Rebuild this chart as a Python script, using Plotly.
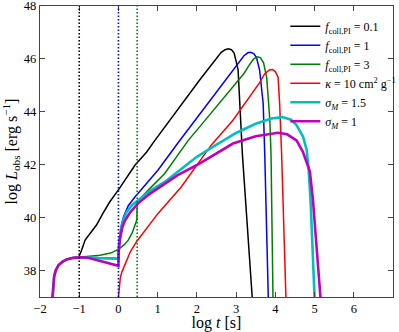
import plotly.graph_objects as go

# shared early plateau (hidden under the magenta line before the branch points)
plat_x = [-1.68, -1.665, -1.64, -1.6, -1.53, -1.43, -1.32, -1.15, -1.0]
plat_y = [37.0, 37.4, 37.77, 38.0, 38.2, 38.33, 38.42, 38.48, 38.5]

black_x = [-1.0, -0.97, -0.94, -0.85, -0.7, -0.56, -0.4, -0.22, 0.0, 0.42, 0.72, 0.93,
           2.08, 2.45, 2.62, 2.72, 2.8, 2.88, 2.95, 3.05, 3.16, 3.41]
black_y = [38.55, 38.65, 38.77, 39.15, 39.45, 39.72, 40.15, 40.6, 41.05, 41.98, 42.48, 42.92,
           45.22, 45.95, 46.25, 46.35, 46.38, 46.35, 46.22, 45.6, 42.4, 37.0]

blue_x = [-0.8, -0.5, 0.0, 0.01, 0.04, 0.08, 0.13, 0.25, 0.42, 0.7, 1.01, 1.53, 2.08, 2.6,
          2.95, 3.1, 3.2, 3.3, 3.37, 3.45, 3.52, 3.6, 3.69, 3.73, 3.82]
blue_y = [38.5, 38.47, 38.45, 39.0, 39.4, 39.75, 40.03, 40.45, 40.78, 41.25, 41.8, 42.85, 43.92, 44.95,
          45.65, 45.95, 46.12, 46.23, 46.25, 46.2, 46.05, 45.57, 44.31, 42.42, 37.0]

green_x = [-0.8, -0.47, -0.2, 0.0, 0.15, 0.25, 0.35, 0.42, 0.47, 0.477, 0.6, 0.76, 1.18, 1.78,
           2.08, 2.92, 3.2, 3.35, 3.45, 3.54, 3.62, 3.7, 3.78, 3.86, 3.89, 3.94]
green_y = [38.52, 38.58, 38.66, 38.8, 38.98, 39.15, 39.42, 39.7, 39.92, 40.6, 40.8, 41.04, 41.67, 42.92,
           43.45, 44.94, 45.45, 45.8, 46.0, 46.08, 46.05, 45.85, 45.3, 43.68, 42.42, 37.0]

red_x = [0.0, 0.02, 0.05, 0.09, 0.17, 0.3, 0.46, 0.7, 1.01, 1.6, 1.99, 2.37, 2.92, 3.35, 3.6,
         3.73, 3.85, 3.93, 4.0, 4.07, 4.11, 4.16, 4.27]
red_y = [37.0, 37.45, 37.75, 37.95, 38.25, 38.7, 39.09, 39.55, 40.16, 41.16, 41.98, 42.75, 43.68, 44.56, 45.1,
         45.44, 45.58, 45.6, 45.52, 45.31, 44.31, 42.42, 37.0]

cyan_x = [-0.8, -0.5, 0.0, 0.01, 0.03, 0.06, 0.12, 0.21, 0.35, 0.5, 0.8, 1.18, 1.6, 2.0, 2.46,
          3.0, 3.5, 3.9, 4.18, 4.4, 4.54, 4.71, 4.8, 4.85, 4.9, 4.95, 5.0]
cyan_y = [38.5, 38.47, 38.45, 38.9, 39.3, 39.53, 39.9, 40.22, 40.48, 40.66, 41.0, 41.35, 41.85, 42.3, 42.72,
          43.2, 43.55, 43.75, 43.8, 43.7, 43.5, 43.05, 42.55, 41.8, 40.6, 39.0, 37.0]

mag_x = [-0.8, -0.56, -0.3, 0.0, 0.005, 0.02, 0.04, 0.1, 0.17, 0.3, 0.5, 0.8, 1.18, 1.5, 1.99,
         2.46, 2.92, 3.5, 4.07, 4.3, 4.54, 4.7, 4.8, 4.88, 4.96, 5.05, 5.15]
mag_y = [38.49, 38.4, 38.3, 38.18, 38.7, 39.0, 39.2, 39.65, 39.9, 40.2, 40.54, 40.9, 41.29, 41.6, 41.98,
         42.38, 42.8, 43.08, 43.21, 43.15, 42.92, 42.5, 42.1, 41.75, 40.66, 39.0, 37.0]

# epochs marked with dotted lines
vline_x = [-1.0, 0.0, 0.477]
vline_col = ["black", "blue", "green"]

names = ["<i>f</i><sub>coll,PI</sub> = 0.1",
         "<i>f</i><sub>coll,PI</sub> = 1",
         "<i>f</i><sub>coll,PI</sub> = 3",
         "<i>κ</i> = 10 cm<sup>2</sup> g<sup>−1</sup>",
         "<i>σ</i><sub><i>M</i></sub> = 1.5",
         "<i>σ</i><sub><i>M</i></sub> = 1"]
colors = ["black", "#0000ff", "#008000", "#ff0000", "#00bfbf", "#bf00bf"]
widths = [1.5, 1.5, 1.5, 1.5, 2.6, 2.6]

curves = [(plat_x + black_x, plat_y + black_y),
          (plat_x + blue_x, plat_y + blue_y),
          (plat_x + green_x, plat_y + green_y),
          (red_x, red_y),
          (plat_x + cyan_x, plat_y + cyan_y),
          (plat_x + mag_x, plat_y + mag_y)]

SERIF = "Liberation Serif, Times New Roman, serif"

fig = go.Figure()
for (xs, ys), nm, c, w in zip(curves, names, colors, widths):
    fig.add_trace(go.Scatter(x=xs, y=ys, name=nm, mode='lines',
                             line=dict(color=c, width=w)))

for xv, c in zip(vline_x, vline_col):
    fig.add_vline(x=xv, line=dict(color=c, width=1.6, dash="1.5px,2px"), layer="above")

axis_style = dict(showline=True, linecolor="#444", linewidth=1.3, mirror='ticks',
                  ticks='inside', ticklen=5, tickwidth=1, tickcolor="#444",
                  showgrid=False, zeroline=False, ticklabeloverflow="allow",
                  tickfont=dict(family=SERIF, size=12.5, color="black"))

fig.update_layout(
    width=399, height=332,
    margin=dict(l=40, r=6, t=6, b=35, autoexpand=False),
    plot_bgcolor="white", paper_bgcolor="white",
    font=dict(family=SERIF, size=13, color="black"),
    xaxis=dict(range=[-2, 7], tickvals=[-2, -1, 0, 1, 2, 3, 4, 5, 6],
               ticktext=["−2", "−1", "0", "1", "2", "3", "4", "5", "6"],
               title=dict(text="log <i>t</i> [s]", standoff=5), **axis_style),
    yaxis=dict(range=[37, 48], tickvals=[38, 40, 42, 44, 46, 48],
               title=dict(text="log <i>L</i><sub>obs</sub> [erg s<sup>−1</sup>]", standoff=6),
               **axis_style),
    legend=dict(x=0.695, y=0.98, xanchor='left', yanchor='top',
                bgcolor='rgba(0,0,0,0)', borderwidth=0,
                font=dict(family=SERIF, size=12),
                tracegroupgap=0),
    showlegend=True,
)

# drop the default page margin so the figure sits at the window's corner
fig.write_html("out.html", config={"displayModeBar": False},
               post_script="document.body.style.margin='0';")
